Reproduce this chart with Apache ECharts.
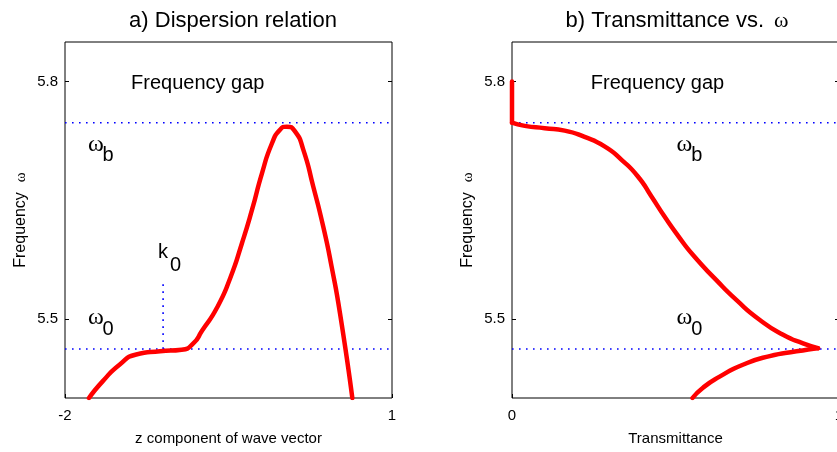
<!DOCTYPE html>
<html>
<head>
<meta charset="utf-8">
<script src="https://cdn.jsdelivr.net/npm/echarts@6/dist/echarts.min.js"></script>
<style>
  html, body { margin: 0; padding: 0; background: #fff; }
  #main { width: 837px; height: 452px; }
</style>
</head>
<body>
<div id="main"></div>
<script>
// a) dispersion relation: wave vector k vs frequency w
var dispK = [-1.78, -1.655, -1.50, -1.346, -1.128, -0.93, -0.823, -0.743, -0.606, -0.483, -0.376, -0.284, -0.193, -0.101, -0.028, 0.034, 0.11, 0.186, 0.278, 0.37, 0.446, 0.523, 0.636];
var dispW = [5.40, 5.421, 5.442, 5.455, 5.459, 5.461, 5.469, 5.485, 5.514, 5.552, 5.596, 5.638, 5.684, 5.722, 5.739, 5.743, 5.737, 5.714, 5.667, 5.616, 5.566, 5.507, 5.40];

// b) transmittance vs frequency (three branches)
var gapT = [0, 0];
var gapW = [5.80, 5.748];
var upT = [0, 0.039, 0.10, 0.161, 0.222, 0.283, 0.335, 0.385, 0.426, 0.467, 0.508, 0.553, 0.625, 0.686, 0.757, 0.829, 0.890, 0.936];
var upW = [5.748, 5.744, 5.741, 5.738, 5.730, 5.718, 5.701, 5.68, 5.655, 5.629, 5.605, 5.581, 5.549, 5.524, 5.499, 5.480, 5.469, 5.463];
var lowT = [0.936, 0.870, 0.788, 0.706, 0.635, 0.584, 0.552];
var lowW = [5.463, 5.459, 5.453, 5.442, 5.427, 5.413, 5.40];

var omegaB = 5.748;   // band edge
var omega0 = 5.462;   // flat band
var k0 = -1.10;
var k0Top = 5.55;

var yTicks = [5.5, 5.8];
var xTicksA = [-2, 1];
var xTicksB = [0, 1];

// annotations: [x, y, text, serif?] in data units
var annoA = [
  [-1.394, 5.798, 'Frequency gap', false],
  [-1.79, 5.72, 'ω', true], [-1.655, 5.707, 'b', false],
  [-1.79, 5.501, 'ω', true], [-1.655, 5.486, '0', false],
  [-1.146, 5.584, 'k', false], [-1.037, 5.568, '0', false]
];
var annoB = [
  [0.241, 5.798, 'Frequency gap', false],
  [0.503, 5.72, 'ω', true], [0.548, 5.707, 'b', false],
  [0.503, 5.501, 'ω', true], [0.548, 5.486, '0', false]
];

var SANS = 'Liberation Sans, Arial, sans-serif';
var SERIF = 'Liberation Serif, Times New Roman, serif';

function zip(a, b) { return a.map(function (v, i) { return [v, b[i]]; }); }

function annoSeries(list, idx) {
  return {
    type: 'scatter', xAxisIndex: idx, yAxisIndex: idx, symbolSize: 0, silent: true,
    data: list.map(function (a) {
      return {
        value: [a[0], a[1]],
        label: {
          show: true, position: 'right', distance: 0, formatter: a[2], color: '#000',
          textBorderWidth: 0, opacity: 1,
          fontFamily: a[3] ? SERIF : SANS, fontSize: a[3] ? 24 : 20
        }
      };
    })
  };
}

function redLine(data, idx) {
  return {
    type: 'line', xAxisIndex: idx, yAxisIndex: idx, data: data, smooth: 0.6,
    showSymbol: false, silent: true,
    lineStyle: { color: '#ff0000', width: 4.5, cap: 'round', join: 'round' }
  };
}

function dotLine(data, idx) {
  return {
    type: 'line', xAxisIndex: idx, yAxisIndex: idx, data: data,
    showSymbol: false, silent: true,
    lineStyle: { color: '#0000ff', width: 1.6, type: [1.6, 5.4] }
  };
}

function yAx(grid, side) {
  var left = side === 'left';
  return {
    type: 'value', gridIndex: grid, position: side, min: 5.4, max: 5.85,
    name: left ? '{a|Frequency}   {w|ω}' : '', nameLocation: 'middle', nameGap: 36, nameRotate: 90,
    nameTextStyle: {
      rich: {
        a: { fontFamily: SANS, fontSize: 16, color: '#000' },
        w: { fontFamily: SERIF, fontSize: 15, color: '#000' }
      }
    },
    axisLine: { show: false, onZero: false },
    splitLine: { show: false },
    axisTick: { show: true, inside: true, length: 4, customValues: yTicks, lineStyle: { color: '#000' } },
    axisLabel: {
      show: left, customValues: yTicks, margin: 7, color: '#000', fontFamily: SANS, fontSize: 15,
      formatter: function (v) { return v.toFixed(1); }
    }
  };
}

function xAx(grid, min, max, ticks, name) {
  return {
    type: 'value', gridIndex: grid, min: min, max: max,
    name: name, nameLocation: 'middle', nameGap: 33,
    nameTextStyle: { fontFamily: SANS, fontSize: 15, color: '#000' },
    axisLine: { show: false, onZero: false },
    splitLine: { show: false },
    axisTick: { show: true, inside: true, length: 4, customValues: ticks, lineStyle: { color: '#000' } },
    axisLabel: { customValues: ticks, margin: 10, color: '#000', fontFamily: SANS, fontSize: 15 }
  };
}

var chart = echarts.init(document.getElementById('main'), null, { renderer: 'canvas' });

chart.setOption({
  animation: false,
  backgroundColor: '#fff',
  title: [
    { text: 'a) Dispersion relation', left: 228, top: 5, textAlign: 'center',
      textStyle: { fontFamily: SANS, fontSize: 22, fontWeight: 'normal', color: '#000' } },
    { text: '{t|b) Transmittance vs.}  {w|ω}', left: 672, top: 5, textAlign: 'center',
      textStyle: { fontWeight: 'normal', rich: {
        t: { fontFamily: SANS, fontSize: 22, fontWeight: 'normal', color: '#000' },
        w: { fontFamily: SERIF, fontSize: 22, fontWeight: 'normal', color: '#000' }
      } } }
  ],
  grid: [
    { left: 65, top: 42, width: 327, height: 356, show: true, borderColor: '#000', borderWidth: 1,
      containLabel: false, outerBoundsMode: 'none' },
    { left: 512, top: 42, width: 327, height: 356, show: true, borderColor: '#000', borderWidth: 1,
      containLabel: false, outerBoundsMode: 'none' }
  ],
  xAxis: [
    xAx(0, -2, 1, xTicksA, 'z component of wave vector'),
    xAx(1, 0, 1, xTicksB, 'Transmittance')
  ],
  yAxis: [yAx(0, 'left'), yAx(1, 'left'), yAx(0, 'right'), yAx(1, 'right')],
  series: [
    dotLine([[-2, omegaB], [1, omegaB]], 0),
    dotLine([[-2, omega0], [1, omega0]], 0),
    dotLine([[k0, omega0], [k0, k0Top]], 0),
    dotLine([[0, omegaB], [1, omegaB]], 1),
    dotLine([[0, omega0], [1, omega0]], 1),
    redLine(zip(dispK, dispW), 0),
    redLine(zip(gapT, gapW), 1),
    redLine(zip(upT, upW), 1),
    redLine(zip(lowT, lowW), 1),
    annoSeries(annoA, 0),
    annoSeries(annoB, 1)
  ]
});
</script>
</body>
</html>
